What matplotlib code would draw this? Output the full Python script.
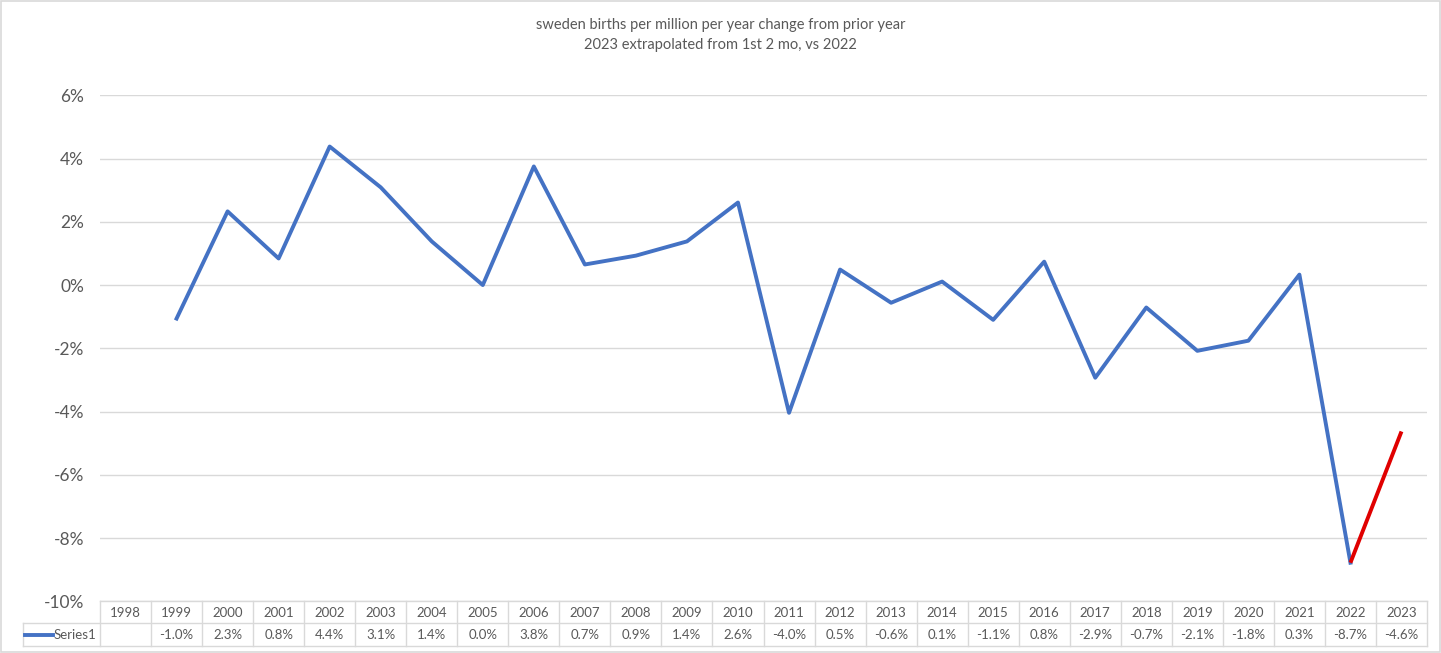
import matplotlib
matplotlib.use("Agg")
import matplotlib.pyplot as plt
from matplotlib.lines import Line2D
from matplotlib.patches import Rectangle

plt.rcParams['font.family'] = ['Lato', 'DejaVu Sans']

years = list(range(1998, 2024))
values = [None, -1.06, 2.33, 0.84, 4.38, 3.09, 1.38, 0.00, 3.75, 0.65, 0.93, 1.38, 2.61,
          -4.04, 0.49, -0.56, 0.11, -1.10, 0.74, -2.93, -0.71, -2.08, -1.76, 0.33, -8.78, -4.63]
table_labels = ["", "-1.0%", "2.3%", "0.8%", "4.4%", "3.1%", "1.4%", "0.0%", "3.8%", "0.7%",
                "0.9%", "1.4%", "2.6%", "-4.0%", "0.5%", "-0.6%", "0.1%", "-1.1%", "0.8%",
                "-2.9%", "-0.7%", "-2.1%", "-1.8%", "0.3%", "-8.7%", "-4.6%"]
yticks = [-10, -8, -6, -4, -2, 0, 2, 4, 6]
title_lines = ["sweden births per million per year change from prior year",
               "2023 extrapolated from 1st 2 mo, vs 2022"]
series_name = "Series1"

W, H = 1441, 653
fig = plt.figure(figsize=(W / 100, H / 100), dpi=100)
fig.patch.set_facecolor("white")

def fx(px):
    return px / W

def fy(py):
    return 1 - py / H

# outer border
fig.add_artist(Rectangle((fx(1), fy(651.5)), fx(1438.5), (650.5) / H, transform=fig.transFigure,
                         fill=False, edgecolor="#d9d9d9", linewidth=1.2))

left_px, right_px, top_px, bot_px = 100, 1427, 95.3, 601.3
ax = fig.add_axes([fx(left_px), fy(bot_px), fx(right_px - left_px), (bot_px - top_px) / H])
ax.set_xlim(-0.5, len(years) - 0.5)
ax.set_ylim(-10, 6)
for s in ax.spines.values():
    s.set_visible(False)
ax.set_yticks(yticks)
ax.set_yticklabels([f"{t}%" for t in yticks], fontsize=12.5, color="#595959")
ax.tick_params(axis="y", length=0, pad=11.5)
ax.set_xticks([])
ax.grid(axis="y", color="#d9d9d9", linewidth=1)
ax.set_axisbelow(True)

xs = [i for i, v in enumerate(values) if v is not None]
ys = [v for v in values if v is not None]
blue = "#4472C4"
red = "#E00000"
# blue part up to 2022
ax.plot(xs[:-1], ys[:-1], color=blue, linewidth=2.8, solid_joinstyle="round", zorder=3)
# red segment 2022 -> 2023
ax.plot(xs[-2:], ys[-2:], color=red, linewidth=2.8, solid_capstyle="butt", zorder=4)

# title
fig.text(0.5, fy(25), title_lines[0], ha="center", va="center", fontsize=10.5, color="#595959")
fig.text(0.5, fy(45.5), title_lines[1], ha="center", va="center", fontsize=10.5, color="#595959")

# data table
grid_c = "#d9d9d9"
row1_top, row_mid, row_bot = 601.3, 623.3, 646
col_w = (right_px - left_px) / len(years)
leg_left = 22.7

def hline(y, x0, x1):
    fig.add_artist(Line2D([fx(x0), fx(x1)], [fy(y), fy(y)], transform=fig.transFigure,
                          color=grid_c, linewidth=1))

def vline(x, y0, y1):
    fig.add_artist(Line2D([fx(x), fx(x)], [fy(y0), fy(y1)], transform=fig.transFigure,
                          color=grid_c, linewidth=1))

hline(row1_top, left_px, right_px)
hline(row_mid, leg_left, right_px)
hline(row_bot, leg_left, right_px)
vline(leg_left, row_mid, row_bot)
for i in range(len(years) + 1):
    vline(left_px + i * col_w, row1_top, row_bot)

for i, (yr, lab) in enumerate(zip(years, table_labels)):
    cx = left_px + (i + 0.5) * col_w
    fig.text(fx(cx), fy((row1_top + row_mid) / 2 + 0.5), str(yr), ha="center", va="center",
             fontsize=9.5, color="#595959")
    if lab:
        fig.text(fx(cx), fy((row_mid + row_bot) / 2 + 0.5), lab, ha="center", va="center",
                 fontsize=9.5, color="#595959")

ly = (row_mid + row_bot) / 2
fig.add_artist(Line2D([fx(25), fx(53)], [fy(ly), fy(ly)], transform=fig.transFigure,
                      color=blue, linewidth=2.8))
fig.text(fx(53.5), fy(ly + 0.5), series_name, ha="left", va="center", fontsize=9.5, color="#595959")

fig.savefig("out.png", dpi=100, facecolor="white")
